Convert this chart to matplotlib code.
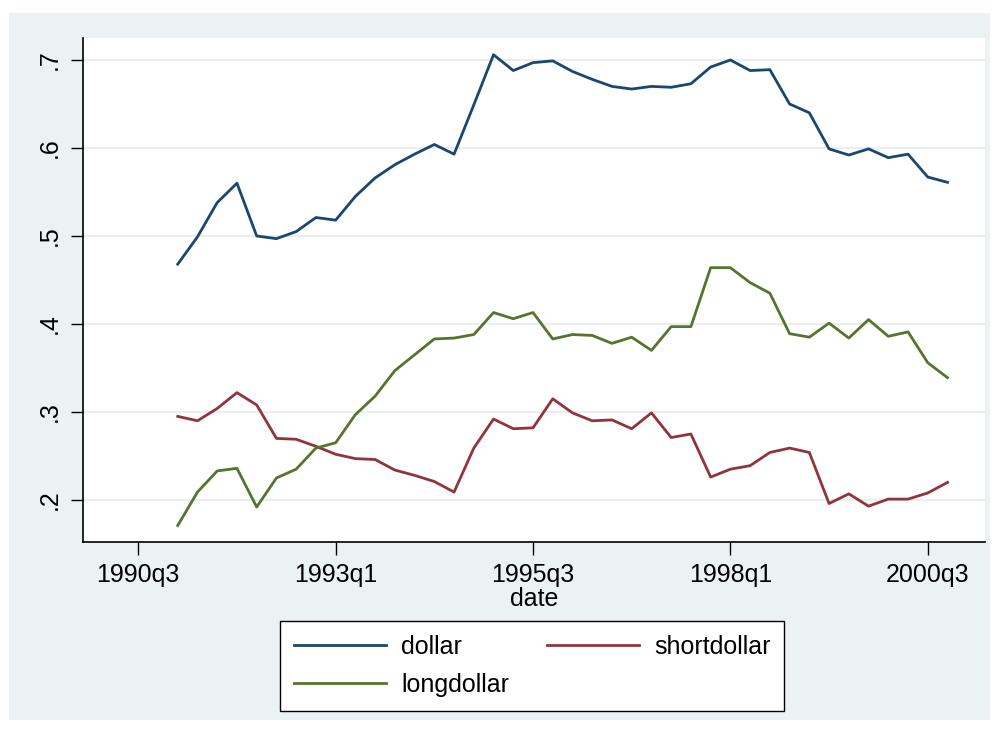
import matplotlib
matplotlib.use('Agg')
import matplotlib.pyplot as plt
from matplotlib.patches import Rectangle
from matplotlib.lines import Line2D
import pandas as pd

# quarterly series, 1991q1 - 2000q4
quarters = pd.period_range('1991Q1', '2000Q4', freq='Q')

dollar = [0.468, 0.499, 0.538, 0.560, 0.500, 0.497, 0.505, 0.521, 0.518, 0.545,
          0.566, 0.581, 0.593, 0.604, 0.593, 0.649, 0.706, 0.688, 0.697, 0.699,
          0.687, 0.678, 0.670, 0.667, 0.670, 0.669, 0.673, 0.692, 0.700, 0.688,
          0.689, 0.650, 0.640, 0.599, 0.592, 0.599, 0.589, 0.593, 0.567, 0.561]

shortdollar = [0.295, 0.290, 0.304, 0.322, 0.308, 0.270, 0.269, 0.261, 0.252, 0.247,
               0.246, 0.234, 0.228, 0.221, 0.209, 0.259, 0.292, 0.281, 0.282, 0.315,
               0.299, 0.290, 0.291, 0.281, 0.299, 0.271, 0.275, 0.226, 0.235, 0.239,
               0.254, 0.259, 0.254, 0.196, 0.207, 0.193, 0.201, 0.201, 0.208, 0.220]

longdollar = [0.171, 0.209, 0.233, 0.236, 0.192, 0.225, 0.235, 0.259, 0.265, 0.297,
              0.318, 0.347, 0.365, 0.383, 0.384, 0.388, 0.413, 0.406, 0.413, 0.383,
              0.388, 0.387, 0.378, 0.385, 0.370, 0.397, 0.397, 0.464, 0.464, 0.447,
              0.435, 0.389, 0.385, 0.401, 0.384, 0.405, 0.386, 0.391, 0.356, 0.339]

xtick_labels = ['1990q3', '1993q1', '1995q3', '1998q1', '2000q3']
ytick_vals = [0.2, 0.3, 0.4, 0.5, 0.6, 0.7]
ytick_labels = ['.2', '.3', '.4', '.5', '.6', '.7']


def tq(year, q):
    # stata style quarterly index (1960q1 = 0)
    return (year - 1960) * 4 + q - 1


x = [tq(p.year, p.quarter) for p in quarters]
xticks = [tq(int(s[:4]), int(s[-1])) for s in xtick_labels]

plt.rcParams['font.family'] = ['Liberation Sans', 'DejaVu Sans']

fig = plt.figure(figsize=(9.97, 7.34), dpi=100)
fig.patches.append(Rectangle((9 / 997, 1 - 720 / 734), 981 / 997, 707 / 734,
                             transform=fig.transFigure, facecolor='#EAF2F3',
                             edgecolor='none', zorder=-1))

ax = fig.add_axes([83 / 997, 1 - 541.7 / 734, 902 / 997, 503.7 / 734])
ax.set_facecolor('white')

l1, = ax.plot(x, dollar, color='#1A476F', lw=2, label='dollar')
l2, = ax.plot(x, shortdollar, color='#90353B', lw=2, label='shortdollar')
l3, = ax.plot(x, longdollar, color='#55752F', lw=2, label='longdollar')

ax.set_xlim(119.2, 164.9)
ax.set_ylim(0.1526, 0.725)

ax.set_xticks(xticks)
ax.set_xticklabels(xtick_labels, fontsize=18)
ax.set_yticks(ytick_vals)
ax.set_yticklabels(ytick_labels, fontsize=18, rotation=90, va='center')
ax.tick_params(length=9, width=1, color='black', pad=6)

for s in ['top', 'right']:
    ax.spines[s].set_visible(False)
for s in ['left', 'bottom']:
    ax.spines[s].set_linewidth(1.2)

ax.grid(axis='y', color='#EAEEEE', linewidth=1.5)
ax.set_axisbelow(True)

ax.set_xlabel('date', fontsize=18, labelpad=0)

# legend: dollar / shortdollar on the first row, longdollar below
blank = Line2D([], [], color='none')
leg = fig.legend([l1, l3, l2, blank], ['dollar', 'longdollar', 'shortdollar', ''],
                 loc='center', bbox_to_anchor=(532 / 997, 1 - 666 / 734),
                 ncol=2, fontsize=18, frameon=True, fancybox=False,
                 framealpha=1, facecolor='white',
                 handlelength=3.7, handletextpad=0.6, columnspacing=1.5,
                 borderpad=0.55, labelspacing=0.55)
leg.get_frame().set_edgecolor('black')
leg.get_frame().set_linewidth(1)

fig.savefig('out.png', dpi=100)
